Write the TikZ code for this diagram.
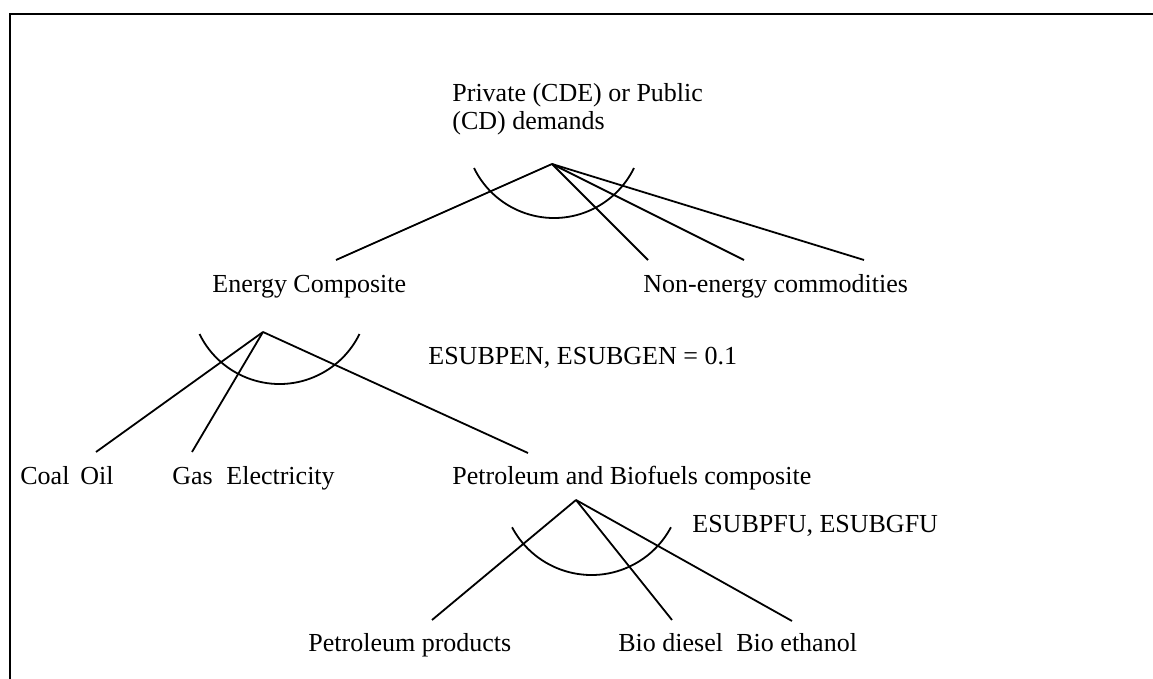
\documentclass[tikz,border=0pt]{standalone}
\usepackage{fontspec}
\setmainfont{Liberation Serif}
\usetikzlibrary{positioning}
\tikzset{
  txt/.style={inner sep=0pt, anchor=base west, font=\fontsize{13pt}{14pt}\selectfont},
  branch/.style={line width=0.9pt},
  cesarc/.style={line width=0.9pt},
  frame/.style={line width=1.2pt}
}

\begin{document}
\begin{tikzpicture}[x=0.5pt,y=-0.5pt]
  \useasboundingbox (0,0) rectangle (1153,679);
  % Frame (top and left only)
  \draw[frame] (10,679) -- (10,14) -- (1153,14);

  % Top level
  \node[txt, align=left] (pcd) at (452,130) {Private (CDE) or Public\\(CD) demands};
  \coordinate (top) at (552,164);
  \coordinate (arctop) at (554,129);
  \node[txt] (ec) at (212,293) {Energy Composite};
  \node[txt] (ne) at (643,293) {Non-energy commodities};
  \coordinate (ecin) at (336,260);
  \coordinate (nein1) at (648,260);
  \coordinate (nein2) at (744,260);
  \coordinate (nein3) at (864,260);
  \draw[branch] (top) -- (ecin);
  \draw[branch] (top) -- (nein1);
  \draw[branch] (top) -- (nein2);
  \draw[branch] (top) -- (nein3);
  \draw[cesarc] ([shift={(206:44.5pt)}]arctop) arc[start angle=206, end angle=334, radius=44.5pt];

  % Energy composite nest
  \coordinate (en) at (263,332);
  \coordinate (arcen) at (279.5,295);
  \node[txt] (esubpen) at (428,365) {ESUBPEN, ESUBGEN = 0.1};
  \node[txt] (coal) at (20,485) {Coal};
  \node[txt] (oil) at (80,485) {Oil};
  \node[txt] (gas) at (172,485) {Gas};
  \node[txt] (elec) at (226,485) {Electricity};
  \node[txt] (pbc) at (452,485) {Petroleum and Biofuels composite};
  \coordinate (coalin) at (96,452);
  \coordinate (gasin) at (192,452);
  \coordinate (pbcin) at (528,453);
  \draw[branch] (en) -- (coalin);
  \draw[branch] (en) -- (gasin);
  \draw[branch] (en) -- (pbcin);
  \draw[cesarc] ([shift={(206:44.5pt)}]arcen) arc[start angle=206, end angle=334, radius=44.5pt];

  % Petroleum and biofuels nest
  \coordinate (fu) at (576,500);
  \coordinate (arcfu) at (591.5,485);
  \node[txt] (esubpfu) at (692,532) {ESUBPFU, ESUBGFU};
  \node[txt] (pp) at (308,652) {Petroleum products};
  \node[txt] (bd) at (618,652) {Bio diesel};
  \node[txt] (be) at (736,652) {Bio ethanol};
  \coordinate (ppin) at (432,620);
  \coordinate (bdin) at (672,620);
  \coordinate (bein) at (792,621);
  \draw[branch] (fu) -- (ppin);
  \draw[branch] (fu) -- (bdin);
  \draw[branch] (fu) -- (bein);
  \draw[cesarc] ([shift={(208:45pt)}]arcfu) arc[start angle=208, end angle=332, radius=45pt];
\end{tikzpicture}
\end{document}
